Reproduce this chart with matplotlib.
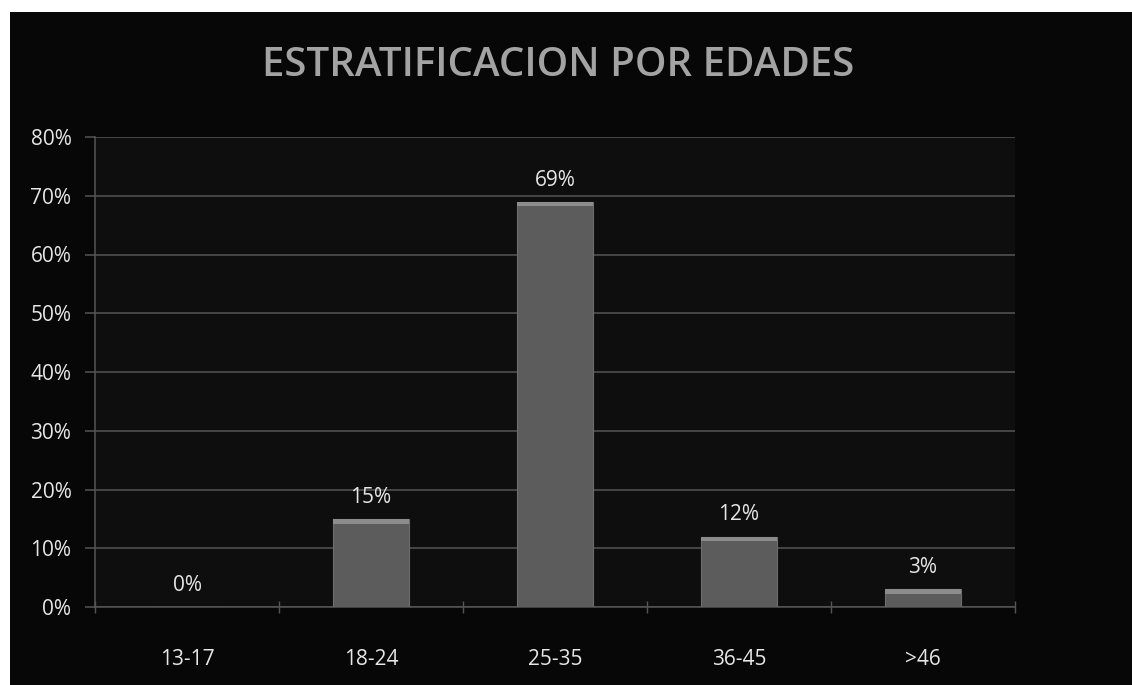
"""Age stratification bar chart on a dark background."""

import matplotlib.pyplot as plt
from matplotlib.patches import Rectangle
from matplotlib.ticker import FuncFormatter, FixedLocator

CATEGORIES = ["13-17", "18-24", "25-35", "36-45", ">46"]
VALUES = [0, 15, 69, 12, 3]
Y_TICKS = [0, 10, 20, 30, 40, 50, 60, 70, 80]
TITLE = "ESTRATIFICACION POR EDADES"

plt.rcParams["font.family"] = ["Open Sans", "DejaVu Sans"]

W, H = 1132, 685
fig = plt.figure(figsize=(W / 100, H / 100), dpi=100, facecolor="white")

# black panel, leaving the thin white scan margin at top and left
fig.patches.append(
    Rectangle((10 / W, 0), 1 - 10 / W, 1 - 12 / H, transform=fig.transFigure,
              facecolor="#070707", edgecolor="none", zorder=-5)
)

ax = fig.add_axes([95 / W, 1 - 607 / H, 920 / W, 470 / H])
ax.set_facecolor("#0e0e0e")

x = list(range(len(CATEGORIES)))
bar_w = 0.41
ax.bar(x, VALUES, width=bar_w, color="#5c5c5c", edgecolor="#6e6e6e",
       linewidth=0.8, zorder=3)
# lighter bevel at top of each bar
bevel = 0.8
tops = [max(v - bevel, 0) for v in VALUES]
heights = [min(v, bevel) for v in VALUES]
ax.bar(x, heights, bottom=tops, width=bar_w, color="#8c8c8c",
       edgecolor="none", zorder=4)

for xi, v in zip(x, VALUES):
    ax.annotate(f"{v}%", (xi, v), xytext=(0, 8), textcoords="offset points",
                ha="center", va="bottom", color="#e6e6e6", fontsize=15,
                fontweight="medium")

ax.set_xlim(-0.5, len(CATEGORIES) - 0.5)
ax.set_ylim(0, 80)
ax.set_yticks(Y_TICKS)
ax.yaxis.set_major_formatter(FuncFormatter(lambda v, _: f"{v:.0f}%"))
ax.set_xticks(x)
ax.set_xticklabels(CATEGORIES, fontweight="medium")
ax.xaxis.set_minor_locator(FixedLocator([i - 0.5 for i in range(len(CATEGORIES) + 1)]))
for lbl in ax.get_yticklabels():
    lbl.set_fontweight("medium")

ax.grid(axis="y", color="#555555", linewidth=1.1, zorder=1)
ax.tick_params(axis="x", which="major", length=0, pad=30,
               labelcolor="#e6e6e6", labelsize=15)
ax.tick_params(axis="x", which="minor", length=8, direction="inout",
               color="#555555", width=1)
ax.tick_params(axis="y", length=7, color="#555555", width=1.1, pad=10,
               labelcolor="#e6e6e6", labelsize=15)

for side in ("top", "right"):
    ax.spines[side].set_visible(False)
for side in ("left", "bottom"):
    ax.spines[side].set_color("#555555")
    ax.spines[side].set_linewidth(1.1)

fig.text(558 / W, 1 - 66 / H, TITLE, ha="center", va="center",
         color="#a3a3a3", fontsize=29, fontweight="semibold",
         family=["Open Sans", "DejaVu Sans"])

fig.savefig("out.png", dpi=100, facecolor=fig.get_facecolor())
